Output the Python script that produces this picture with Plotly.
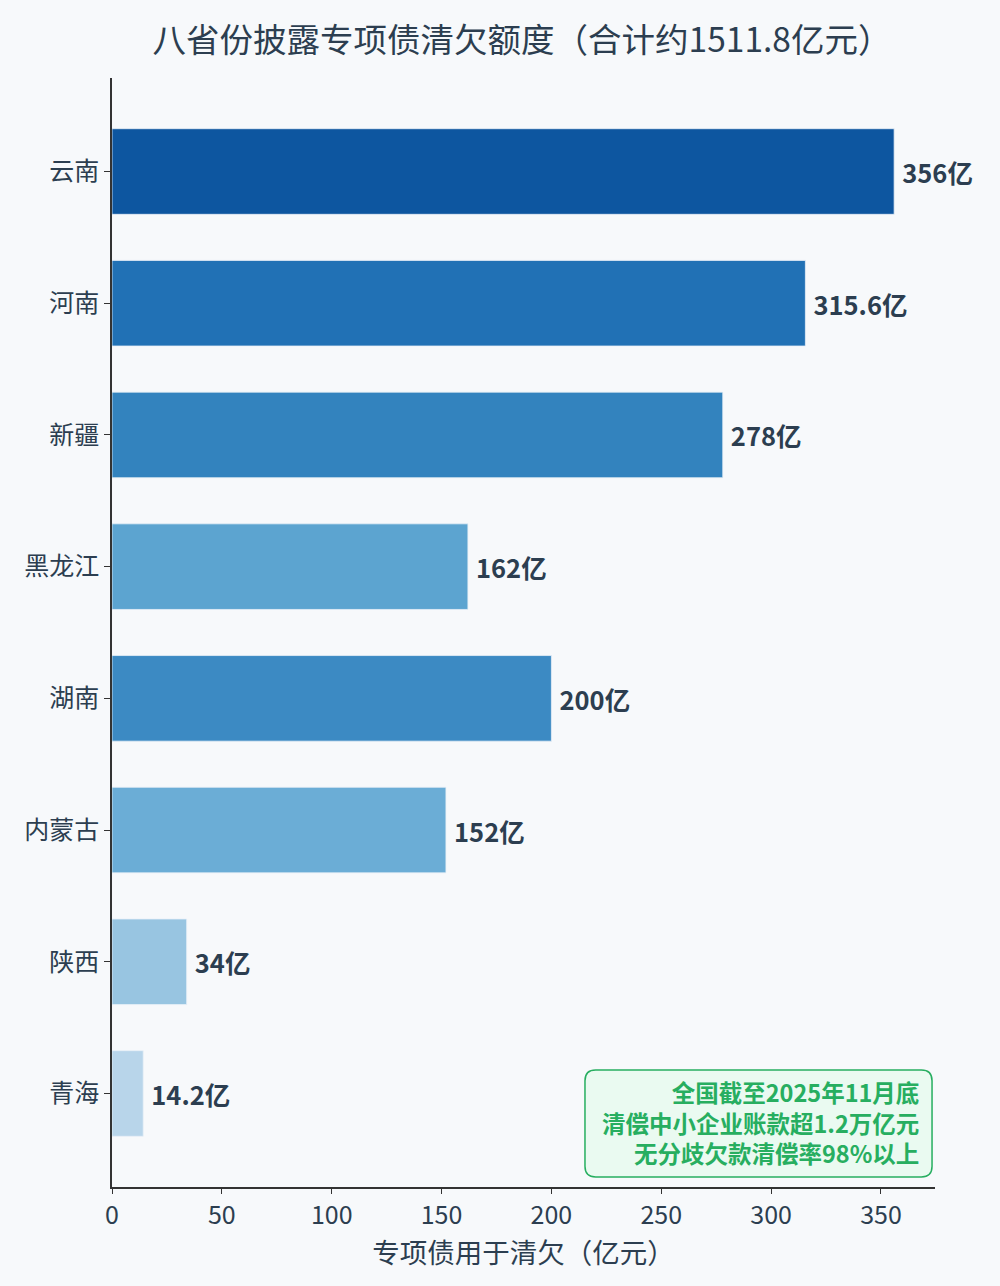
import plotly.graph_objects as go

provinces = ["云南", "河南", "新疆", "黑龙江", "湖南", "内蒙古", "陕西", "青海"]
amounts = [356, 315.6, 278, 162, 200, 152, 34, 14.2]
labels = ["356亿", "315.6亿", "278亿", "162亿", "200亿", "152亿", "34亿", "14.2亿"]
bar_colors = ["#0d56a0", "#2171b5", "#3383be", "#5ca4d0",
              "#3c8ac3", "#6badd6", "#98c5e1", "#b8d5ea"]
x_ticks = [0, 50, 100, 150, 200, 250, 300, 350]
note = "全国截至2025年11月底<br>清偿中小企业账款超1.2万亿元<br>无分歧欠款清偿率98%以上"

font_name = "Noto Sans CJK SC"
dark = "#2c3e50"

fig = go.Figure(go.Bar(
    x=amounts, y=provinces, orientation="h",
    width=0.65,
    marker=dict(color=bar_colors, line=dict(color="#e8f0f8", width=0.8)),
    text=labels, texttemplate="\u2009%{text}",
    textposition="outside", cliponaxis=False, constraintext="none",
    textfont=dict(family=font_name, size=25.5, color=dark, weight="bold"),
))

fig.update_layout(
    width=1000, height=1286,
    paper_bgcolor="#f7f9fb", plot_bgcolor="#f7f9fb",
    font=dict(family=font_name, color=dark),
    title=dict(text="八省份披露专项债清欠额度（合计约1511.8亿元）",
               x=0.522, xanchor="center", y=0.969, yanchor="middle",
               font=dict(size=33.5, color=dark)),
    margin=dict(l=112, r=65, t=78, b=99),
    showlegend=False,
)
fig.update_xaxes(
    range=[0, 374.6], tickvals=x_ticks, showgrid=False, zeroline=False,
    showline=True, linecolor="#333333", linewidth=1.5,
    ticks="outside", ticklen=5, tickcolor="#333333",
    tickfont=dict(size=25, color=dark),
    title=dict(text="专项债用于清欠（亿元）", font=dict(size=27.5, color=dark), standoff=2),
)
fig.update_yaxes(
    categoryorder="array", categoryarray=provinces,
    range=[7.71, -0.71], showgrid=False, zeroline=False,
    showline=True, linecolor="#333333", linewidth=1.5,
    ticks="outside", ticklen=6, tickcolor="#333333",
    tickfont=dict(size=25, color=dark),
)

# rounded box behind the note
x0, x1, y0, y1, r = 0.5747, 0.9964, 0.0090, 0.1055, 0.013
ry = r * 823 / 1109
fig.add_shape(
    type="path", xref="paper", yref="paper",
    path=(f"M {x0+r},{y0} L {x1-r},{y0} Q {x1},{y0} {x1},{y0+ry} "
          f"L {x1},{y1-ry} Q {x1},{y1} {x1-r},{y1} L {x0+r},{y1} "
          f"Q {x0},{y1} {x0},{y1-ry} L {x0},{y0+ry} Q {x0},{y0} {x0+r},{y0} Z"),
    fillcolor="#eafaf1", line=dict(color="#27ae60", width=1.5),
)
fig.add_annotation(
    text=note, xref="paper", yref="paper", x=0.983, y=0.0586,
    xanchor="right", yanchor="middle", align="right", showarrow=False,
    font=dict(family=font_name, size=23.5, color="#27ae60", weight="bold"),
)

fig.write_html("out.html", config={"displayModeBar": False},
               post_script="document.body.style.margin='0';")
